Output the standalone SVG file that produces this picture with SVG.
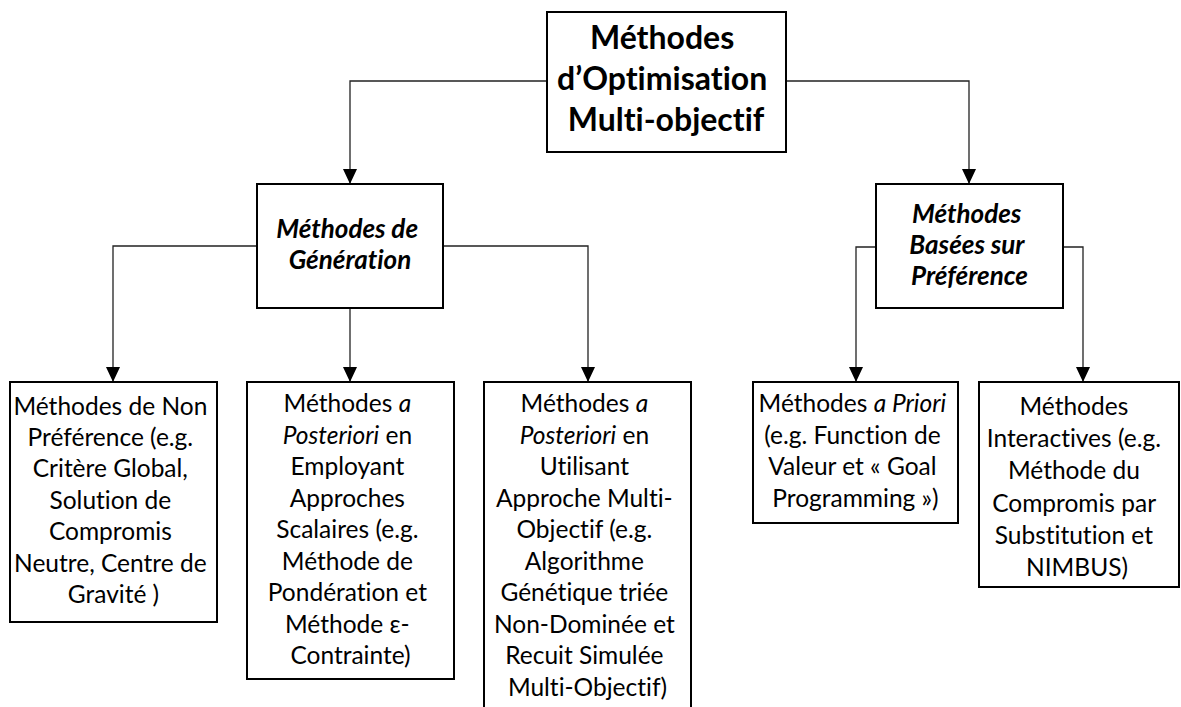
<svg xmlns="http://www.w3.org/2000/svg" width="1181" height="707" viewBox="0 0 1181 707">
  <style>
    .box { fill: #ffffff; stroke: #000000; stroke-width: 2; }
    .link { fill: none; stroke: #222222; stroke-width: 1.3; }
    text { font-family: Lato, "Open Sans", "Liberation Sans", sans-serif; fill: #000000; text-anchor: middle; font-variant-ligatures: none; font-feature-settings: "liga" 0, "clig" 0; }
    .body { font-size: 24.5px; }
    .sub { font-size: 26px; font-weight: bold; font-style: italic; }
    .root { font-size: 32px; font-weight: bold; }
    .it { font-style: italic; }
  </style>
  <defs>
    <marker id="arrow" viewBox="0 0 15 14" refX="15" refY="7" markerWidth="15" markerHeight="14" markerUnits="userSpaceOnUse" orient="auto">
      <path d="M0,0 L15,7 L0,14 Z" fill="#000000"/>
    </marker>
  </defs>

  <!-- connectors -->
  <g id="connectors">
    <path class="link" d="M547,81 H350 V184" marker-end="url(#arrow)"/>
    <path class="link" d="M786,81 H969 V184" marker-end="url(#arrow)"/>
    <path class="link" d="M257,246 H113 V382" marker-end="url(#arrow)"/>
    <path class="link" d="M350,308 V382" marker-end="url(#arrow)"/>
    <path class="link" d="M443,246 H588 V382" marker-end="url(#arrow)"/>
    <path class="link" d="M876,247 H856 V382" marker-end="url(#arrow)"/>
    <path class="link" d="M1063,247 H1083 V382" marker-end="url(#arrow)"/>
  </g>

  <!-- root -->
  <g id="root">
    <rect class="box" x="547" y="12" width="239" height="140"/>
    <text class="root">
      <tspan x="666" y="49">Méthodes</tspan>
      <tspan x="666" y="90">d’Optimisation</tspan>
      <tspan x="666" y="131">Multi-objectif</tspan>
    </text>
  </g>

  <!-- generation branch -->
  <g id="generation">
    <rect class="box" x="257" y="184" width="186" height="124"/>
    <text class="sub">
      <tspan x="350" y="238">Méthodes de</tspan>
      <tspan x="350" y="269">Génération</tspan>
    </text>
  </g>

  <!-- preference branch -->
  <g id="preference">
    <rect class="box" x="876" y="184" width="187" height="124"/>
    <text class="sub">
      <tspan x="969.5" y="223">Méthodes</tspan>
      <tspan x="969.5" y="254">Basées sur</tspan>
      <tspan x="969.5" y="285">Préférence</tspan>
    </text>
  </g>

  <!-- leaf: no preference -->
  <g id="non-preference">
    <rect class="box" x="10" y="382" width="207" height="240"/>
    <text class="body">
      <tspan x="113.5" y="415">Méthodes de Non</tspan>
      <tspan x="113.5" y="446">Préférence (e.g.</tspan>
      <tspan x="113.5" y="477">Critère Global,</tspan>
      <tspan x="113.5" y="508.5">Solution de</tspan>
      <tspan x="113.5" y="540">Compromis</tspan>
      <tspan x="113.5" y="571.5">Neutre, Centre de</tspan>
      <tspan x="113.5" y="603">Gravité )</tspan>
    </text>
  </g>

  <!-- leaf: a posteriori, scalar -->
  <g id="posteriori-scalar">
    <rect class="box" x="247" y="382" width="207" height="297"/>
    <text class="body">
      <tspan x="350.5" y="412">Méthodes <tspan class="it">a</tspan></tspan>
      <tspan x="350.5" y="443.5"><tspan class="it">Posteriori</tspan> en</tspan>
      <tspan x="350.5" y="475">Employant</tspan>
      <tspan x="350.5" y="506.5">Approches</tspan>
      <tspan x="350.5" y="538">Scalaires (e.g.</tspan>
      <tspan x="350.5" y="569.5">Méthode de</tspan>
      <tspan x="350.5" y="601">Pondération et</tspan>
      <tspan x="350.5" y="632.5">Méthode ε-</tspan>
      <tspan x="350.5" y="664">Contrainte)</tspan>
    </text>
  </g>

  <!-- leaf: a posteriori, multi-objective -->
  <g id="posteriori-multi">
    <rect class="box" x="484" y="382" width="207" height="330"/>
    <text class="body">
      <tspan x="587.5" y="412">Méthodes <tspan class="it">a</tspan></tspan>
      <tspan x="587.5" y="443.5"><tspan class="it">Posteriori</tspan> en</tspan>
      <tspan x="587.5" y="475">Utilisant</tspan>
      <tspan x="587.5" y="506.5">Approche Multi-</tspan>
      <tspan x="587.5" y="538">Objectif (e.g.</tspan>
      <tspan x="587.5" y="569.5">Algorithme</tspan>
      <tspan x="587.5" y="601">Génétique triée</tspan>
      <tspan x="587.5" y="632.5">Non-Dominée et</tspan>
      <tspan x="587.5" y="664">Recuit Simulée</tspan>
      <tspan x="587.5" y="695.5">Multi-Objectif)</tspan>
    </text>
  </g>

  <!-- leaf: a priori -->
  <g id="priori">
    <rect class="box" x="753" y="382" width="205" height="141"/>
    <text class="body">
      <tspan x="855.5" y="412">Méthodes <tspan class="it">a Priori</tspan></tspan>
      <tspan x="855.5" y="443.5">(e.g. Function de</tspan>
      <tspan x="855.5" y="475">Valeur et « Goal</tspan>
      <tspan x="855.5" y="506.5">Programming »)</tspan>
    </text>
  </g>

  <!-- leaf: interactive -->
  <g id="interactive">
    <rect class="box" x="979" y="382" width="200" height="205"/>
    <text class="body">
      <tspan x="1077" y="415">Méthodes</tspan>
      <tspan x="1077" y="447">Interactives (e.g.</tspan>
      <tspan x="1077" y="479">Méthode du</tspan>
      <tspan x="1077" y="511.5">Compromis par</tspan>
      <tspan x="1077" y="544">Substitution et</tspan>
      <tspan x="1077" y="576">NIMBUS)</tspan>
    </text>
  </g>
</svg>
